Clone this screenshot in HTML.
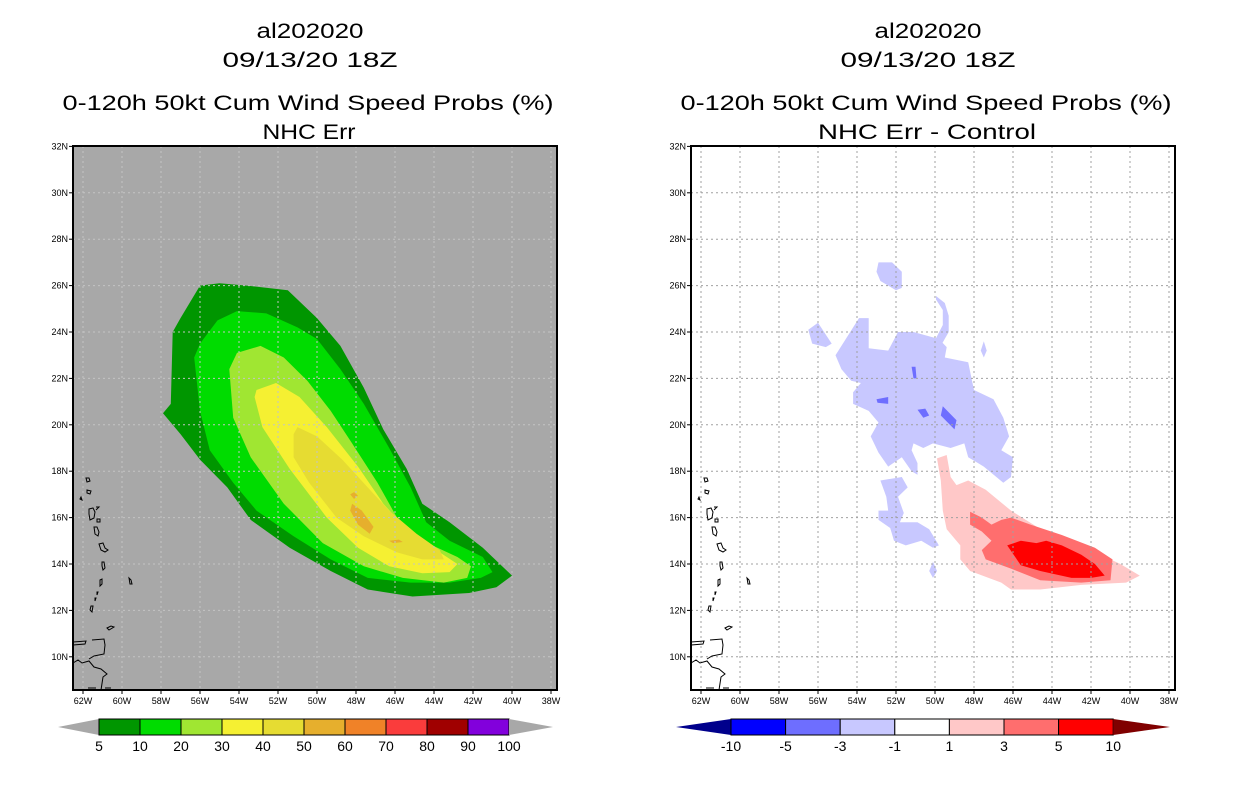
<!DOCTYPE html>
<html><head><meta charset="utf-8">
<style>
html,body{margin:0;padding:0;background:#fff;}
svg{display:block;font-family:"Liberation Sans",sans-serif;}
</style></head>
<body>
<svg id="chart" width="1236" height="800" viewBox="0 0 1236 800" xmlns="http://www.w3.org/2000/svg">
<rect x="0" y="0" width="1236" height="800" fill="#fff"/>
<g id="titles" font-size="21" text-anchor="middle" fill="#000" lengthAdjust="spacingAndGlyphs">
<text x="310" y="38" textLength="107" lengthAdjust="spacingAndGlyphs">al202020</text>
<text x="310" y="67" textLength="175" lengthAdjust="spacingAndGlyphs">09/13/20 18Z</text>
<text x="308" y="110" textLength="491" lengthAdjust="spacingAndGlyphs">0-120h 50kt Cum Wind Speed Probs (%)</text>
<text x="309" y="139" textLength="93" lengthAdjust="spacingAndGlyphs">NHC Err</text>
<text x="928" y="38" textLength="107" lengthAdjust="spacingAndGlyphs">al202020</text>
<text x="928" y="67" textLength="175" lengthAdjust="spacingAndGlyphs">09/13/20 18Z</text>
<text x="926" y="110" textLength="491" lengthAdjust="spacingAndGlyphs">0-120h 50kt Cum Wind Speed Probs (%)</text>
<text x="927" y="139" textLength="218" lengthAdjust="spacingAndGlyphs">NHC Err - Control</text>
</g>
<g id="left"></g>
<g id="right"></g>
<g id="cbars"></g>
</svg>
<script>
// ---- data (lon in degrees W, lat in degrees N) ----
const latTicks = [32,30,28,26,24,22,20,18,16,14,12,10];
const lonTicks = [62,60,58,56,54,52,50,48,46,44,42,40,38];
const probLevels = ["5","10","20","30","40","50","60","70","80","90","100"];
const probColors = ["#009600","#00dc00","#a0e632","#f5f032","#e6dc32","#e6af2d","#f08228","#fa3c3c","#a00000","#8200dc"];
const diffLevels = ["-10","-5","-3","-1","1","3","5","10"];
const diffColors = ["#00008c","#0000ff","#6e6eff","#c8c8ff","#ffffff","#ffc8c8","#ff6e6e","#ff0000","#800000"];

const prob5 = [[56,26.0],[55.0,26.1],[53.6,26.0],[51.5,25.8],[50.0,24.6],[48.8,23.4],[47.6,21.6],[46.6,19.8],[45.4,18.1],[44.6,16.6],[43.2,15.8],[41.5,14.7],[40.0,13.5],[40.8,13.0],[42.2,12.75],[45.1,12.6],[47.4,12.9],[49.3,13.7],[51.4,14.7],[53.4,15.9],[54.6,17.3],[56.0,18.5],[57.0,19.6],[57.9,20.5],[57.5,20.9],[57.4,24.0],[57.0,24.6]];
const prob10 = [[55.1,24.5],[54.1,24.9],[52.6,24.8],[51.0,24.2],[50.0,23.7],[48.8,22.4],[47.6,20.9],[46.3,19.0],[45.2,17.3],[44.4,15.8],[43.2,15.0],[41.5,14.3],[41.0,13.65],[41.6,13.4],[43.2,13.2],[45.2,13.2],[47.4,13.4],[49.3,14.2],[51.2,15.2],[53.1,16.3],[54.3,17.5],[55.5,18.9],[56.0,20.6],[56.3,22.9],[56.0,23.5]];
const prob20 = [[54.1,23.1],[52.9,23.4],[51.7,22.9],[50.5,21.9],[49.3,20.6],[48.2,19.2],[46.9,17.5],[45.9,16.0],[44.6,15.0],[42.8,14.3],[42.1,13.9],[42.3,13.4],[43.5,13.2],[45.6,13.4],[47.6,13.9],[49.7,14.9],[51.7,16.6],[53.4,18.6],[54.3,20.3],[54.5,22.4]];
const prob30 = [[53.1,21.5],[52.1,21.8],[50.9,21.2],[49.5,19.9],[47.9,18.2],[46.6,16.6],[45.2,15.3],[43.7,14.5],[42.8,14.0],[43.2,13.65],[44.6,13.6],[46.3,13.9],[47.9,14.7],[49.5,16.0],[51.4,18.1],[52.8,19.9],[53.2,21.2]];
const prob40 = [[51.0,19.9],[50.0,19.5],[48.7,18.5],[47.4,17.3],[46.3,16.3],[44.9,15.3],[43.7,14.6],[43.5,14.2],[44.6,14.2],[45.9,14.5],[47.6,15.2],[49.0,16.0],[50.4,17.5],[51.2,18.6],[51.2,19.6]];
const prob50 = [[48.2,16.6],[47.7,16.3],[47.1,15.6],[47.3,15.3],[47.9,15.7],[48.3,16.3]];
const prob50b = [[48.3,17.0],[48.1,17.1],[47.9,16.95],[48.1,16.8]];
const prob50c = [[46.3,15.0],[45.8,15.05],[45.6,14.95],[46.1,14.9]];

const diffNeg1a = [[55.1,23.0],[53.9,24.6],[53.4,24.6],[53.4,23.3],[52.4,23.2],[51.9,24.0],[51.1,24.0],[49.8,23.7],[49.4,23.35],[49.5,22.9],[48.3,22.7],[48.1,21.9],[48.0,21.5],[47.0,21.1],[46.5,20.3],[46.2,19.5],[46.6,18.9],[46.0,18.6],[46.1,17.75],[46.5,17.5],[47.5,18.2],[47.9,18.4],[48.3,18.6],[48.5,19.2],[49.2,19.0],[50.1,19.2],[50.6,19.0],[51.1,19.2],[51.2,18.9],[50.9,18.35],[50.9,17.85],[51.2,18.0],[51.7,18.6],[52.4,18.2],[52.9,18.8],[53.3,19.5],[52.9,20.1],[53.4,20.6],[54.2,20.9],[54.2,21.4],[53.8,21.8],[54.3,21.9],[54.8,22.4]];
const diffNeg1b = [[49.95,25.55],[49.5,25.25],[49.3,24.7],[49.3,24.0],[49.7,23.4],[50.0,23.65],[49.6,24.3],[49.6,24.95],[49.95,25.4]];
const diffNeg1c = [[52.9,27.0],[52.2,27.0],[51.7,26.6],[51.7,25.9],[52.0,25.8],[52.8,26.2],[53.0,26.6]];
const diffNeg1d = [[56.5,24.1],[56.0,24.4],[55.3,23.5],[55.6,23.35],[56.3,23.5]];
const diffNeg1e = [[52.8,17.6],[51.7,17.75],[51.4,17.3],[51.9,16.9],[51.6,16.2],[51.8,15.8],[50.9,15.8],[50.3,15.5],[49.8,14.8],[50.1,14.7],[50.7,15.0],[51.5,14.8],[52.1,15.0],[52.3,15.55],[52.9,15.9],[52.9,16.3],[52.4,16.3],[52.5,16.9]];
const diffNeg1f = [[47.5,23.6],[47.35,23.2],[47.5,22.9],[47.65,23.2]];
const diffNeg1g = [[50.1,14.1],[49.9,13.7],[50.1,13.4],[50.3,13.7]];
const diffNeg3a = [[51.2,22.5],[51.0,22.5],[50.95,22.0],[51.1,22.0]];
const diffNeg3b = [[53.0,21.1],[52.4,21.2],[52.4,20.9],[52.95,20.95]];
const diffNeg3c = [[50.9,20.65],[50.5,20.7],[50.3,20.4],[50.6,20.3]];
const diffNeg3d = [[49.6,20.8],[48.9,20.2],[49.0,19.8],[49.7,20.4]];
const diffPos1 = [[49.9,18.55],[49.4,18.7],[49.2,17.75],[48.9,17.4],[48.3,17.6],[47.4,17.2],[46.1,16.3],[44.1,15.25],[42.0,14.6],[40.5,14.0],[39.5,13.5],[40.2,13.2],[42.5,13.1],[44.6,12.9],[46.1,12.9],[46.6,13.2],[48.2,13.7],[48.7,14.2],[48.7,14.8],[49.4,15.5],[49.6,16.3],[49.7,17.6]];
const diffPos3 = [[48.2,16.25],[47.6,16.0],[47.1,15.7],[46.6,15.9],[46.1,16.0],[45.1,15.7],[43.5,15.25],[41.8,14.7],[40.9,14.2],[41.0,13.3],[42.5,13.2],[44.6,13.3],[46.1,13.8],[47.4,14.2],[47.6,14.6],[47.1,15.0],[47.6,15.4],[48.2,15.7]];
const diffPos5 = [[46.3,14.8],[45.6,15.0],[44.8,14.9],[44.3,15.0],[43.5,14.8],[42.5,14.4],[41.8,14.0],[41.3,13.5],[42.0,13.4],[43.0,13.4],[44.6,13.7],[45.6,13.95]];

// ---- axes ----
const NS='http://www.w3.org/2000/svg';
const BOX={top:146,bottom:690,w:484};
function xOf(lon,x0){return x0+127+(56-lon)*19.5;}
function yOf(lat){return 332+(24-lat)*23.2;}
function mk(tag,attrs,parent){const e=document.createElementNS(NS,tag);for(const k in attrs)e.setAttribute(k,attrs[k]);parent.appendChild(e);return e;}
function poly(pts,x0,fill,parent,name){
  const d=pts.map(p=>xOf(p[0],x0).toFixed(1)+','+yOf(p[1]).toFixed(1)).join(' ');
  const e=mk('polygon',{points:d,fill:fill},parent);
  
  
}
const islands = "M86,478 l3,0 l1,3 l-3,1 z M87,490 l4,1 l-1,3 l-3,-1 z M80,499 l1,-2 l1,3 z M89,509 l4,-1 l2,4 l-1,6 l-4,2 l-1,-6 z M96,507 l3,0 l-3,3 M97,519 l3,0 l0,3 l-3,0 z M94,527 l3,0 l2,5 l-1,4 l-3,-2 z M99,544 l4,-1 l2,5 l3,2 l-3,2 l-4,-2 z M102,562 l2,0 l1,6 l-2,2 l-1,-4 z M100,580 l2,-1 l0,5 l-2,2 z M97,592 l1,0 l-1,3 z M95,598 l1,0 l-1,3 z M91,606 l2,0 l-1,6 l-2,-2 z M129,578 l2,2 l1,4 l-2,0 z M107,628 l4,-2 l3,1 l-5,3 z M73,642 l13,-1 l-1,3 l-12,1 M92,640 l12,-1 l1,6 l-1,9 l-10,2 l-5,3 M73,663 l5,-3 l4,3 l7,-2 l5,6 l7,2 l6,5 l-4,3 l-2,13 M88,688 l8,0 M105,688 l6,0";

function panel(gid,x0,bg,gridCol,layers,island){
  const g=document.getElementById(gid);
  mk('rect',{x:x0,y:BOX.top,width:BOX.w,height:BOX.bottom-BOX.top,fill:bg},g);
  const clip=mk('clipPath',{id:gid+'-clip'},g);
  mk('rect',{x:x0,y:BOX.top,width:BOX.w,height:BOX.bottom-BOX.top},clip);
  const fills=mk('g',{'clip-path':'url(#'+gid+'-clip)'},g);
  
  
  layers.forEach(l=>poly(l[0],x0,l[1],fills,l[2]));
  const grid=mk('g',{stroke:gridCol,'stroke-width':1,'stroke-dasharray':'2,3','clip-path':'url(#'+gid+'-clip)'},g);
  
  
  latTicks.forEach(v=>{const y=yOf(v);mk('line',{x1:x0,x2:x0+BOX.w,y1:y,y2:y},grid);});
  lonTicks.forEach(v=>{const x=xOf(v,x0);mk('line',{x1:x,x2:x,y1:BOX.top,y2:BOX.bottom},grid);});
  const isl=mk('path',{d:island,fill:'none',stroke:'#000','stroke-width':1,transform:'translate('+(x0-73)+',0)'},g);
  
  
  const fr=mk('rect',{x:x0,y:BOX.top,width:BOX.w,height:BOX.bottom-BOX.top,fill:'none',stroke:'#000','stroke-width':2},g);
  
  
  latTicks.forEach(v=>{const y=yOf(v);
    mk('line',{x1:x0-4,x2:x0,y1:y,y2:y,stroke:'#000'},g);
    const t=mk('text',{x:x0-5,y:y+3,'font-size':9,'text-anchor':'end'},g);t.textContent=v+'N';
    
    });
  lonTicks.forEach(v=>{const x=xOf(v,x0);
    mk('line',{x1:x,x2:x,y1:BOX.bottom,y2:BOX.bottom+4,stroke:'#000'},g);
    const t=mk('text',{x:x,y:BOX.bottom+14,'font-size':9,'text-anchor':'middle'},g);t.textContent=v+'W';
    
    });
}
panel('left',73,'#a8a8a8','#c4c4c4',[
 [prob5,probColors[0],'contour-5'],[prob10,probColors[1],'contour-10'],[prob20,probColors[2],'contour-20'],
 [prob30,probColors[3],'contour-30'],[prob40,probColors[4],'contour-40'],[prob50,probColors[5],'contour-50'],
 [prob50b,probColors[5],'contour-50-spot'],[prob50c,probColors[5],'contour-50-spot']],islands);
panel('right',691,'#ffffff','#a0a0a0',[
 [diffNeg1a,diffColors[3],'neg-1-main'],[diffNeg1b,diffColors[3],'neg-1-hook'],[diffNeg1c,diffColors[3],'neg-1-north'],
 [diffNeg1d,diffColors[3],'neg-1-west'],[diffNeg1e,diffColors[3],'neg-1-south'],[diffNeg1f,diffColors[3],'neg-1-spot'],[diffNeg1g,diffColors[3],'neg-1-spot'],
 [diffNeg3a,diffColors[2],'neg-3-spot'],[diffNeg3b,diffColors[2],'neg-3-spot'],[diffNeg3c,diffColors[2],'neg-3-spot'],[diffNeg3d,diffColors[2],'neg-3-spot'],
 [diffPos1,diffColors[5],'pos-1'],[diffPos3,diffColors[6],'pos-3'],[diffPos5,diffColors[7],'pos-5']],islands);

function colorbar(x0,x1,segStart,segW,colors,labels,endL,endR,name){
  const g=document.getElementById('cbars');
  const top=719,bot=735,mid=727;
  const n=colors.length;
  const lastEnd=segStart+segW*n;
  const l=mk('polygon',{points:x0+','+mid+' '+segStart+','+top+' '+segStart+','+bot,fill:endL},g);
  
  
  colors.forEach((c,i)=>{const r=mk('rect',{x:segStart+i*segW,y:top,width:segW,height:bot-top,fill:c,stroke:'#000','stroke-width':1},g);
    
    });
  const rr=mk('polygon',{points:lastEnd+','+top+' '+x1+','+mid+' '+lastEnd+','+bot,fill:endR},g);
  
  
  labels.forEach((s,i)=>{const t=mk('text',{x:segStart+i*segW,y:751,'font-size':14,'text-anchor':'middle'},g);t.textContent=s;
    
    });
}
colorbar(58,553,99,41,probColors,probLevels,'#a8a8a8','#a8a8a8','prob-colorbar');
colorbar(676,1170,731,54.6,diffColors.slice(1,8),diffLevels,diffColors[0],diffColors[8],'diff-colorbar');
</script>
</body></html>
